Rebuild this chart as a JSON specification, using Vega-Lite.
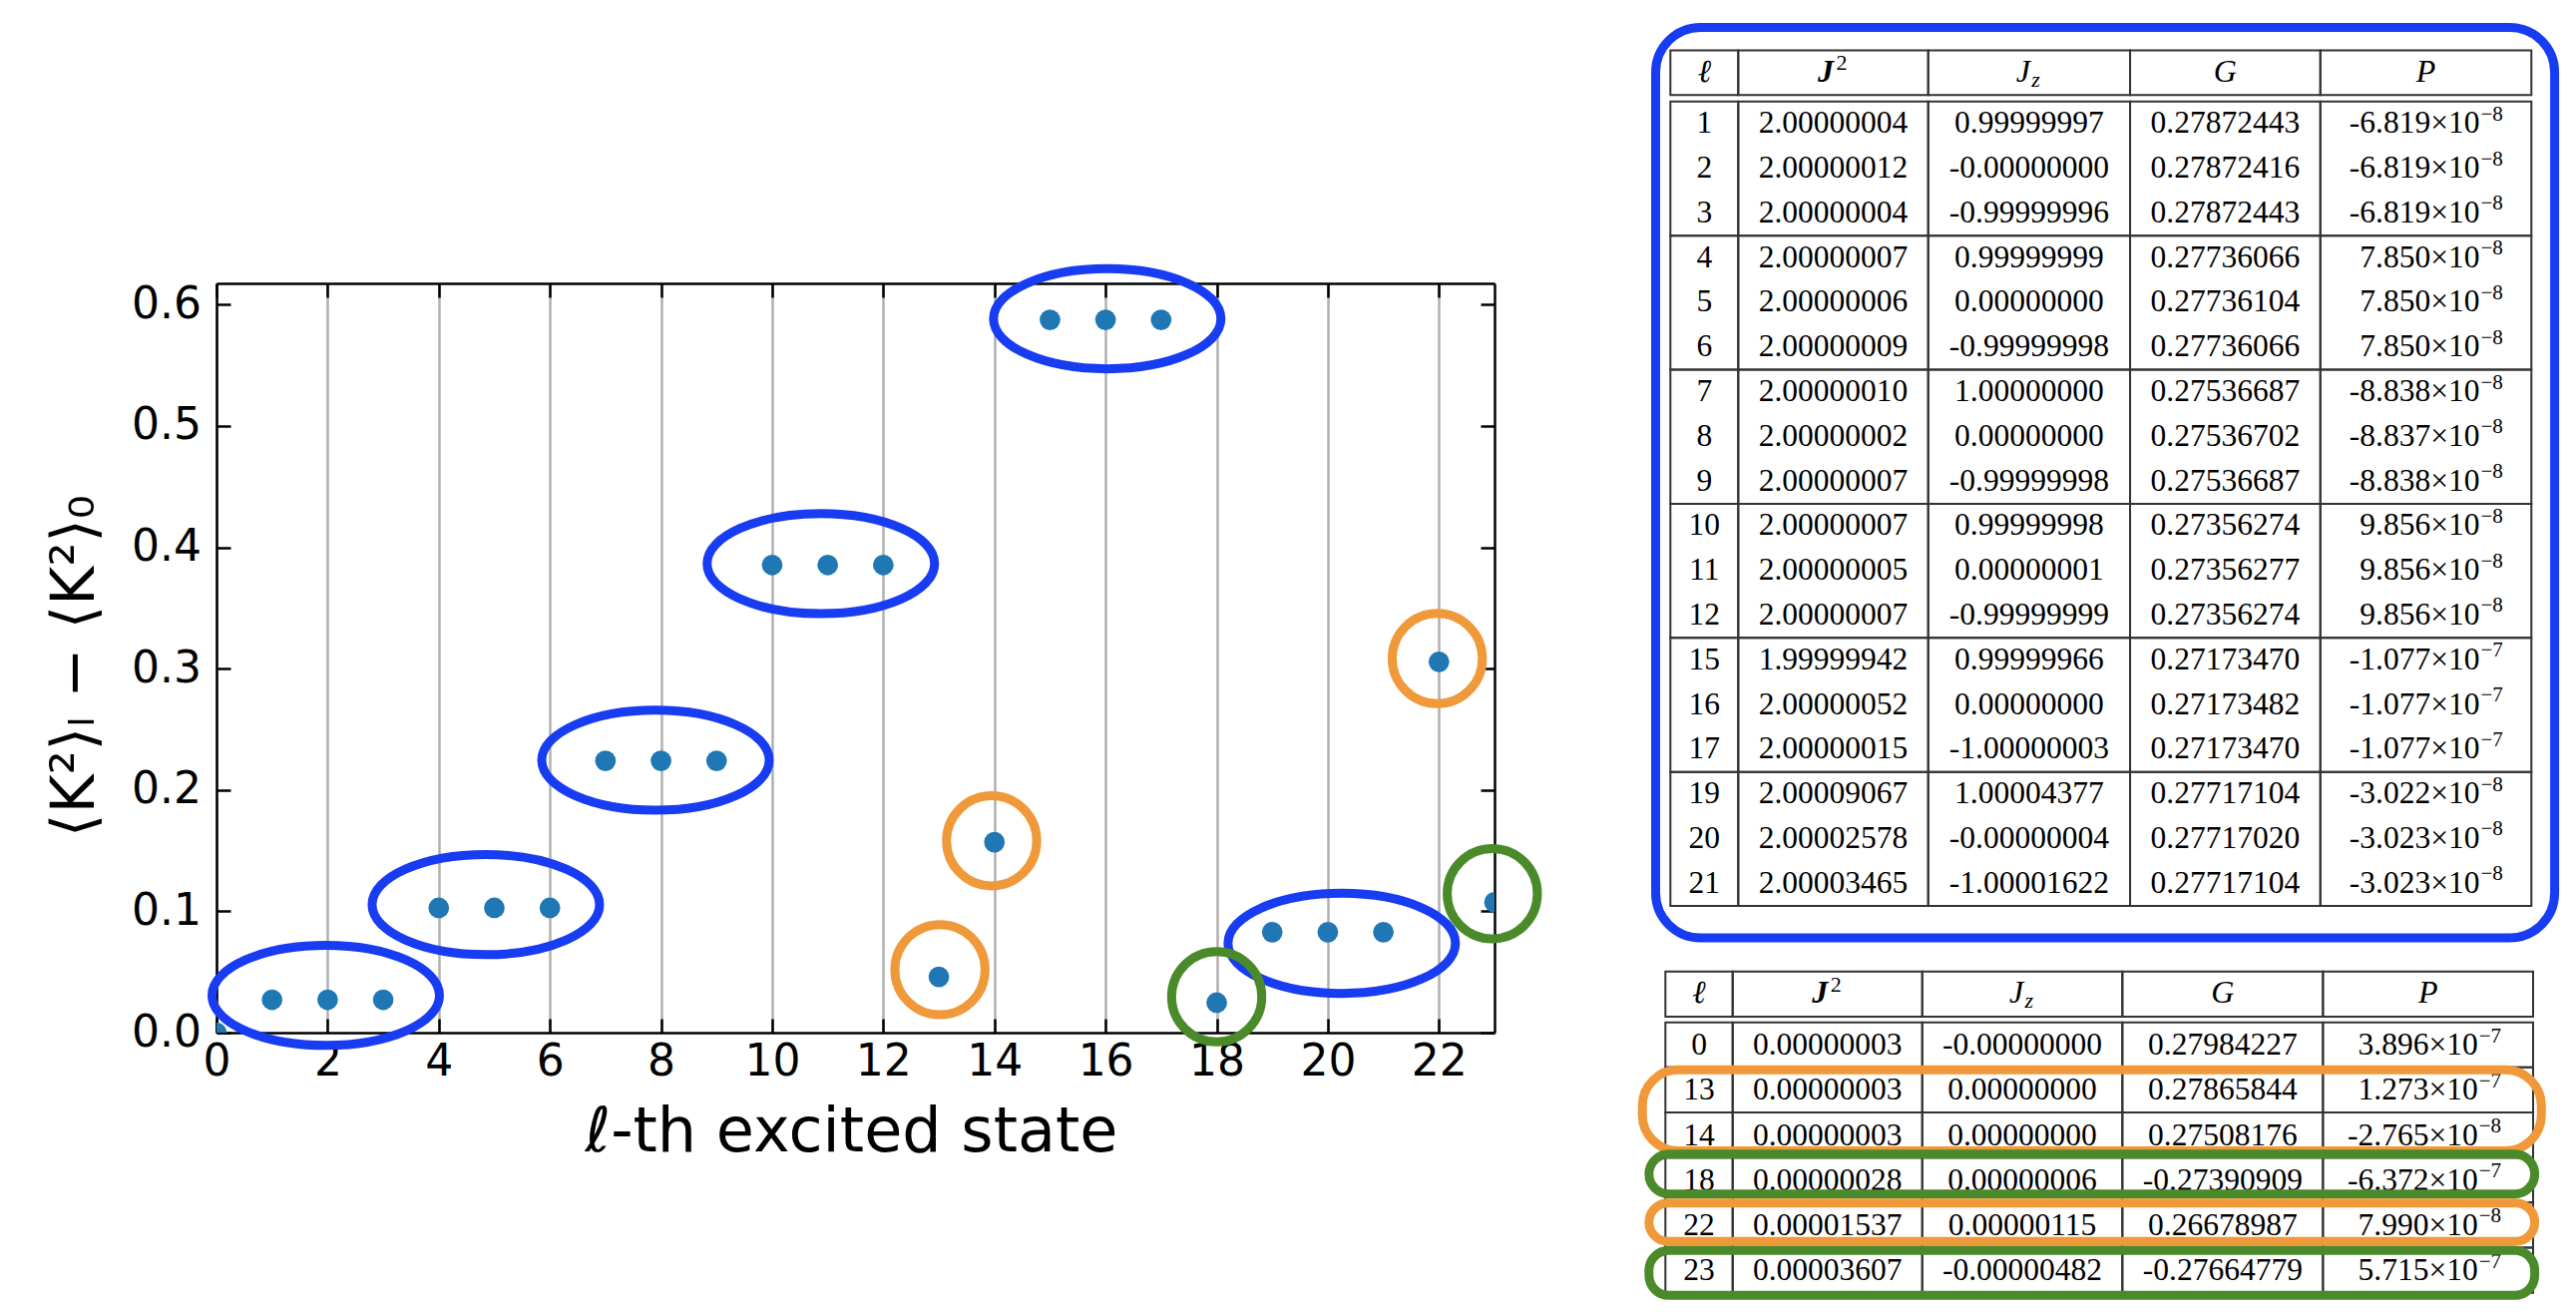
{
  "$schema": "https://vega.github.io/schema/vega-lite/v6.json",
  "autosize": {"type": "none"},
  "padding": {"left": 217, "top": 284, "right": 2365, "bottom": 1032},
  "background": "white",
  "config": {"view": {"stroke": null}},
  "datasets": {
    "states": [
      {"l": 0, "dK2": 0},
      {"l": 1, "dK2": 0.0271}, {"l": 2, "dK2": 0.0271}, {"l": 3, "dK2": 0.0271},
      {"l": 4, "dK2": 0.1028}, {"l": 5, "dK2": 0.1028}, {"l": 6, "dK2": 0.1028},
      {"l": 7, "dK2": 0.224}, {"l": 8, "dK2": 0.224}, {"l": 9, "dK2": 0.224},
      {"l": 10, "dK2": 0.3854}, {"l": 11, "dK2": 0.3854}, {"l": 12, "dK2": 0.3854},
      {"l": 13, "dK2": 0.046}, {"l": 14, "dK2": 0.157},
      {"l": 15, "dK2": 0.5874}, {"l": 16, "dK2": 0.5874}, {"l": 17, "dK2": 0.5874},
      {"l": 18, "dK2": 0.0247},
      {"l": 19, "dK2": 0.0828}, {"l": 20, "dK2": 0.0828}, {"l": 21, "dK2": 0.0828},
      {"l": 22, "dK2": 0.3056}, {"l": 23, "dK2": 0.1074}
    ],
    "ellipses": [
      {"kind": "triplet", "x": 1.966, "y": 0.0307},
      {"kind": "triplet", "x": 4.847, "y": 0.1055},
      {"kind": "triplet", "x": 7.9, "y": 0.2245},
      {"kind": "triplet", "x": 10.876, "y": 0.3865},
      {"kind": "triplet", "x": 16.03, "y": 0.5883},
      {"kind": "triplet", "x": 20.25, "y": 0.0736},
      {"kind": "orange", "x": 13.02, "y": 0.0519},
      {"kind": "orange", "x": 13.95, "y": 0.1581},
      {"kind": "orange", "x": 21.97, "y": 0.3083},
      {"kind": "green", "x": 18.0, "y": 0.0296},
      {"kind": "green", "x": 22.96, "y": 0.1145}
    ],
    "colsTop": [
      {"col": "l", "head": "ℓ", "left": 0.156, "right": 2.284, "center": 1.22},
      {"col": "J2", "head": "J", "sup": "2", "left": 2.284, "right": 8.241, "center": 5.2625},
      {"col": "Jz", "head": "J", "sub": "z", "left": 8.241, "right": 14.571, "center": 11.406},
      {"col": "G", "head": "G", "left": 14.571, "right": 20.538, "center": 17.5545},
      {"col": "Pm", "head": "P", "left": 20.538, "right": 27.156, "center": 23.847}
    ],
    "colsBot": [
      {"col": "l", "head": "ℓ", "left": 0, "right": 2.109, "center": 1.0545},
      {"col": "J2", "head": "J", "sup": "2", "left": 2.109, "right": 8.054, "center": 5.0815},
      {"col": "Jz", "head": "J", "sub": "z", "left": 8.054, "right": 14.33, "center": 11.192},
      {"col": "G", "head": "G", "left": 14.33, "right": 20.62, "center": 17.475},
      {"col": "Pm", "head": "P", "left": 20.62, "right": 27.21, "center": 23.915}
    ],
    "frames": [
      {"tbl": "top", "id": 0, "kind": "blue", "x0": -0.307, "x1": 27.885, "y0": -0.514, "y1": 19.86},
      {"tbl": "bot", "id": 1, "kind": "orange", "x0": -0.723, "x1": 27.47, "y0": 2.181, "y1": 3.98},
      {"tbl": "bot", "id": 2, "kind": "green", "x0": -0.516, "x1": 27.26, "y0": 4.049, "y1": 4.935},
      {"tbl": "bot", "id": 3, "kind": "orange", "x0": -0.516, "x1": 27.26, "y0": 5.134, "y1": 5.989},
      {"tbl": "bot", "id": 4, "kind": "green", "x0": -0.516, "x1": 27.26, "y0": 6.188, "y1": 7.184}
    ],
    "topRows": [
      {"pos": 1, "grp": 1, "l": "1", "J2": "2.00000004", "Jz": "0.99999997", "G": "0.27872443", "Pm": "-6.819×10", "Pe": "−8"},
      {"pos": 2, "grp": 1, "l": "2", "J2": "2.00000012", "Jz": "-0.00000000", "G": "0.27872416", "Pm": "-6.819×10", "Pe": "−8"},
      {"pos": 3, "grp": 1, "l": "3", "J2": "2.00000004", "Jz": "-0.99999996", "G": "0.27872443", "Pm": "-6.819×10", "Pe": "−8"},
      {"pos": 4, "grp": 2, "l": "4", "J2": "2.00000007", "Jz": "0.99999999", "G": "0.27736066", "Pm": "7.850×10", "Pe": "−8"},
      {"pos": 5, "grp": 2, "l": "5", "J2": "2.00000006", "Jz": "0.00000000", "G": "0.27736104", "Pm": "7.850×10", "Pe": "−8"},
      {"pos": 6, "grp": 2, "l": "6", "J2": "2.00000009", "Jz": "-0.99999998", "G": "0.27736066", "Pm": "7.850×10", "Pe": "−8"},
      {"pos": 7, "grp": 3, "l": "7", "J2": "2.00000010", "Jz": "1.00000000", "G": "0.27536687", "Pm": "-8.838×10", "Pe": "−8"},
      {"pos": 8, "grp": 3, "l": "8", "J2": "2.00000002", "Jz": "0.00000000", "G": "0.27536702", "Pm": "-8.837×10", "Pe": "−8"},
      {"pos": 9, "grp": 3, "l": "9", "J2": "2.00000007", "Jz": "-0.99999998", "G": "0.27536687", "Pm": "-8.838×10", "Pe": "−8"},
      {"pos": 10, "grp": 4, "l": "10", "J2": "2.00000007", "Jz": "0.99999998", "G": "0.27356274", "Pm": "9.856×10", "Pe": "−8"},
      {"pos": 11, "grp": 4, "l": "11", "J2": "2.00000005", "Jz": "0.00000001", "G": "0.27356277", "Pm": "9.856×10", "Pe": "−8"},
      {"pos": 12, "grp": 4, "l": "12", "J2": "2.00000007", "Jz": "-0.99999999", "G": "0.27356274", "Pm": "9.856×10", "Pe": "−8"},
      {"pos": 13, "grp": 5, "l": "15", "J2": "1.99999942", "Jz": "0.99999966", "G": "0.27173470", "Pm": "-1.077×10", "Pe": "−7"},
      {"pos": 14, "grp": 5, "l": "16", "J2": "2.00000052", "Jz": "0.00000000", "G": "0.27173482", "Pm": "-1.077×10", "Pe": "−7"},
      {"pos": 15, "grp": 5, "l": "17", "J2": "2.00000015", "Jz": "-1.00000003", "G": "0.27173470", "Pm": "-1.077×10", "Pe": "−7"},
      {"pos": 16, "grp": 6, "l": "19", "J2": "2.00009067", "Jz": "1.00004377", "G": "0.27717104", "Pm": "-3.022×10", "Pe": "−8"},
      {"pos": 17, "grp": 6, "l": "20", "J2": "2.00002578", "Jz": "-0.00000004", "G": "0.27717020", "Pm": "-3.023×10", "Pe": "−8"},
      {"pos": 18, "grp": 6, "l": "21", "J2": "2.00003465", "Jz": "-1.00001622", "G": "0.27717104", "Pm": "-3.023×10", "Pe": "−8"}
    ],
    "botRows": [
      {"pos": 1, "l": "0", "J2": "0.00000003", "Jz": "-0.00000000", "G": "0.27984227", "Pm": "3.896×10", "Pe": "−7"},
      {"pos": 2, "l": "13", "J2": "0.00000003", "Jz": "0.00000000", "G": "0.27865844", "Pm": "1.273×10", "Pe": "−7"},
      {"pos": 3, "l": "14", "J2": "0.00000003", "Jz": "0.00000000", "G": "0.27508176", "Pm": "-2.765×10", "Pe": "−8"},
      {"pos": 4, "l": "18", "J2": "0.00000028", "Jz": "0.00000006", "G": "-0.27390909", "Pm": "-6.372×10", "Pe": "−7"},
      {"pos": 5, "l": "22", "J2": "0.00001537", "Jz": "0.00000115", "G": "0.26678987", "Pm": "7.990×10", "Pe": "−8"},
      {"pos": 6, "l": "23", "J2": "0.00003607", "Jz": "-0.00000482", "G": "-0.27664779", "Pm": "5.715×10", "Pe": "−7"}
    ]
  },
  "bounds": "flush",
  "spacing": 171.3,
  "hconcat": [
    {
      "width": 1281,
      "height": 751,
      "layer": [
        {
          "data": {"name": "states"},
          "mark": {"type": "circle", "size": 430, "color": "#1f77b4", "opacity": 1, "clip": true},
          "encoding": {
            "x": {
              "field": "l", "type": "quantitative",
              "scale": {"domain": [0, 23], "nice": false, "zero": false},
              "axis": {
                "orient": "bottom", "values": [0, 2, 4, 6, 8, 10, 12, 14, 16, 18, 20, 22],
                "grid": true, "gridColor": "#b0b0b0", "gridWidth": 2.5,
                "domain": true, "domainColor": "#000000", "domainWidth": 2.5,
                "ticks": true, "tickSize": -14, "tickWidth": 2.5, "tickColor": "#000000",
                "labelFont": "DejaVu Sans", "labelFontSize": 44, "labelColor": "#000000",
                "labelPadding": 56, "labelBaseline": "alphabetic", "labelFlush": false, "labelOverlap": false,
                "title": "ℓ-th excited state", "titleFont": "DejaVu Sans", "titleFontSize": 62,
                "titleFontWeight": "normal", "titleColor": "#000000",
                "titleX": 636, "titleY": 118, "titleBaseline": "alphabetic", "titleAlign": "center"
              }
            },
            "y": {
              "field": "dK2", "type": "quantitative",
              "scale": {"domain": [0, 0.6175], "nice": false, "zero": false},
              "axis": {
                "orient": "left", "values": [0, 0.1, 0.2, 0.3, 0.4, 0.5, 0.6], "format": ".1f",
                "grid": false,
                "domain": true, "domainColor": "#000000", "domainWidth": 2.5,
                "ticks": true, "tickSize": -14, "tickWidth": 2.5, "tickColor": "#000000",
                "labelFont": "DejaVu Sans", "labelFontSize": 44, "labelColor": "#000000",
                "labelPadding": 29.5, "labelBaseline": "middle", "labelFlush": false, "labelOverlap": false,
                "title": "⟨K²⟩ₗ − ⟨K²⟩₀", "titleFont": "DejaVu Sans", "titleFontSize": 60,
                "titleFontWeight": "normal", "titleColor": "#000000",
                "titleX": -142, "titleY": 383, "titleAngle": -90, "titleBaseline": "middle", "titleAlign": "center"
              }
            }
          }
        },
        {
          "data": {"name": "ellipses"},
          "transform": [{"filter": "datum.kind === 'triplet'"}],
          "mark": {
            "type": "point", "filled": false, "opacity": 1, "strokeWidth": 9, "color": "#173cf2",
            "shape": "M-1,0A1,0.44,0,1,1,1,0A1,0.44,0,1,1,-1,0Z", "size": 51984
          },
          "encoding": {
            "x": {
              "field": "x", "type": "quantitative",
              "scale": {"domain": [0, 23], "nice": false, "zero": false},
              "axis": {
                "orient": "top", "values": [0, 2, 4, 6, 8, 10, 12, 14, 16, 18, 20, 22],
                "labels": false, "grid": false, "title": null,
                "domain": true, "domainColor": "#000000", "domainWidth": 2.5,
                "ticks": true, "tickSize": -14, "tickWidth": 2.5, "tickColor": "#000000"
              }
            },
            "y": {
              "field": "y", "type": "quantitative",
              "scale": {"domain": [0, 0.6175], "nice": false, "zero": false},
              "axis": {
                "orient": "right", "values": [0, 0.1, 0.2, 0.3, 0.4, 0.5, 0.6],
                "labels": false, "grid": false, "title": null,
                "domain": true, "domainColor": "#000000", "domainWidth": 2.5,
                "ticks": true, "tickSize": -14, "tickWidth": 2.5, "tickColor": "#000000"
              }
            }
          }
        },
        {
          "data": {"name": "ellipses"},
          "transform": [{"filter": "datum.kind !== 'triplet'"}],
          "mark": {"type": "point", "filled": false, "opacity": 1, "strokeWidth": 9, "shape": "circle", "size": 8171},
          "encoding": {
            "x": {"field": "x", "type": "quantitative", "scale": {"domain": [0, 23], "nice": false, "zero": false}, "axis": null},
            "y": {"field": "y", "type": "quantitative", "scale": {"domain": [0, 0.6175], "nice": false, "zero": false}, "axis": null},
            "color": {
              "field": "kind", "type": "nominal",
              "scale": {"domain": ["orange", "green"], "range": ["#f0993a", "#4a8a2a"]},
              "legend": null
            }
          }
        }
      ],
      "resolve": {"axis": {"x": "independent", "y": "independent"}}
    },
    {
      "bounds": "flush",
      "spacing": 71.8,
      "vconcat": [
        {
          "width": 869.7,
          "height": 617.5,
          "layer": [
            {
              "data": {"name": "frames"},
              "transform": [{"filter": "datum.tbl === 'top'"}],
              "mark": {"type": "rect", "fill": "transparent", "stroke": "#173cf2", "strokeWidth": 9, "cornerRadius": 45},
              "encoding": {
                "x": {"field": "x0", "type": "quantitative", "scale": {"domain": [0, 27.21], "nice": false, "zero": false}, "axis": null},
                "x2": {"field": "x1"},
                "y": {"field": "y0", "type": "quantitative", "scale": {"domain": [5.213, 19], "nice": false, "zero": false, "reverse": true}, "axis": null},
                "y2": {"field": "y1"}
              }
            },
            {
              "data": {"name": "colsTop"},
              "mark": {"type": "rect", "fill": "transparent", "stroke": "#333333", "strokeWidth": 2},
              "encoding": {
                "x": {"field": "left", "type": "quantitative"},
                "x2": {"field": "right"},
                "y": {"datum": 0, "type": "quantitative"},
                "y2": {"datum": 1}
              }
            },
            {
              "data": {"name": "topRows"},
              "transform": [
                {"fold": ["l", "J2", "Jz", "G", "Pm"], "as": ["key", "value"]},
                {"lookup": "key", "from": {"data": {"name": "colsTop"}, "key": "col", "fields": ["left", "right", "center"]}},
                {"aggregate": [{"op": "min", "field": "pos", "as": "p0"}, {"op": "max", "field": "pos", "as": "p1"}], "groupby": ["grp", "key", "left", "right"]}
              ],
              "mark": {"type": "rect", "fill": "transparent", "stroke": "#333333", "strokeWidth": 2, "yOffset": 6.5, "y2Offset": 51.29},
              "encoding": {
                "x": {"field": "left", "type": "quantitative"},
                "x2": {"field": "right"},
                "y": {"field": "p0", "type": "quantitative"},
                "y2": {"field": "p1"}
              }
            },
            {
              "data": {"name": "colsTop"},
              "transform": [{"filter": "datum.col === 'l' || datum.col === 'G' || datum.col === 'Pm'"}],
              "mark": {"type": "text", "font": "Liberation Serif", "fontSize": 32, "fontStyle": "italic", "color": "#000000", "align": "center", "baseline": "alphabetic", "yOffset": 31},
              "encoding": {
                "x": {"field": "center", "type": "quantitative"},
                "y": {"datum": 0, "type": "quantitative"},
                "text": {"field": "head"}
              }
            },
            {
              "data": {"name": "colsTop"},
              "transform": [{"filter": "datum.col === 'J2'"}],
              "mark": {"type": "text", "font": "Liberation Serif", "fontSize": 32, "fontStyle": "italic", "fontWeight": "bold", "color": "#000000", "align": "center", "baseline": "alphabetic", "yOffset": 31, "dx": -7.5},
              "encoding": {
                "x": {"field": "center", "type": "quantitative"},
                "y": {"datum": 0, "type": "quantitative"},
                "text": {"field": "head"}
              }
            },
            {
              "data": {"name": "colsTop"},
              "transform": [{"filter": "datum.col === 'J2'"}],
              "mark": {"type": "text", "font": "Liberation Serif", "fontSize": 22, "color": "#000000", "align": "left", "baseline": "alphabetic", "yOffset": 19.5, "dx": 3},
              "encoding": {
                "x": {"field": "center", "type": "quantitative"},
                "y": {"datum": 0, "type": "quantitative"},
                "text": {"field": "sup"}
              }
            },
            {
              "data": {"name": "colsTop"},
              "transform": [{"filter": "datum.col === 'Jz'"}],
              "mark": {"type": "text", "font": "Liberation Serif", "fontSize": 32, "fontStyle": "italic", "color": "#000000", "align": "center", "baseline": "alphabetic", "yOffset": 31, "dx": -6},
              "encoding": {
                "x": {"field": "center", "type": "quantitative"},
                "y": {"datum": 0, "type": "quantitative"},
                "text": {"field": "head"}
              }
            },
            {
              "data": {"name": "colsTop"},
              "transform": [{"filter": "datum.col === 'Jz'"}],
              "mark": {"type": "text", "font": "Liberation Serif", "fontSize": 22, "fontStyle": "italic", "color": "#000000", "align": "left", "baseline": "alphabetic", "yOffset": 36, "dx": 2.5},
              "encoding": {
                "x": {"field": "center", "type": "quantitative"},
                "y": {"datum": 0, "type": "quantitative"},
                "text": {"field": "sub"}
              }
            },
            {
              "data": {"name": "topRows"},
              "transform": [
                {"fold": ["l", "J2", "Jz", "G", "Pm"], "as": ["key", "value"]},
                {"lookup": "key", "from": {"data": {"name": "colsTop"}, "key": "col", "fields": ["left", "right", "center"]}},
                {"filter": "datum.key !== 'Pm'"}
              ],
              "mark": {"type": "text", "font": "Liberation Serif", "fontSize": 31.5, "color": "#000000", "align": "center", "baseline": "alphabetic", "yOffset": 38},
              "encoding": {
                "x": {"field": "center", "type": "quantitative"},
                "y": {"field": "pos", "type": "quantitative"},
                "text": {"field": "value"}
              }
            },
            {
              "data": {"name": "topRows"},
              "transform": [
                {"fold": ["l", "J2", "Jz", "G", "Pm"], "as": ["key", "value"]},
                {"lookup": "key", "from": {"data": {"name": "colsTop"}, "key": "col", "fields": ["left", "right", "center"]}},
                {"filter": "datum.key === 'Pm'"}
              ],
              "mark": {"type": "text", "font": "Liberation Serif", "fontSize": 31.5, "color": "#000000", "align": "right", "baseline": "alphabetic", "yOffset": 38, "dx": 54},
              "encoding": {
                "x": {"field": "center", "type": "quantitative"},
                "y": {"field": "pos", "type": "quantitative"},
                "text": {"field": "value"}
              }
            },
            {
              "data": {"name": "topRows"},
              "transform": [
                {"fold": ["l", "J2", "Jz", "G", "Pm"], "as": ["key", "value"]},
                {"lookup": "key", "from": {"data": {"name": "colsTop"}, "key": "col", "fields": ["left", "right", "center"]}},
                {"filter": "datum.key === 'Pm'"}
              ],
              "mark": {"type": "text", "font": "Liberation Serif", "fontSize": 21, "color": "#000000", "align": "left", "baseline": "alphabetic", "yOffset": 25.5, "dx": 55},
              "encoding": {
                "x": {"field": "center", "type": "quantitative"},
                "y": {"field": "pos", "type": "quantitative"},
                "text": {"field": "Pe"}
              }
            }
          ]
        },
        {
          "width": 869.7,
          "height": 316.2,
          "layer": [
            {
              "data": {"name": "colsBot"},
              "mark": {"type": "rect", "fill": "transparent", "stroke": "#333333", "strokeWidth": 2},
              "encoding": {
                "x": {"field": "left", "type": "quantitative", "scale": {"domain": [0, 27.21], "nice": false, "zero": false}, "axis": null},
                "x2": {"field": "right"},
                "y": {"datum": 0, "type": "quantitative", "scale": {"domain": [0, 7], "nice": false, "zero": false, "reverse": true}, "axis": null},
                "y2": {"datum": 1}
              }
            },
            {
              "data": {"name": "botRows"},
              "transform": [
                {"fold": ["l", "J2", "Jz", "G", "Pm"], "as": ["key", "value"]},
                {"lookup": "key", "from": {"data": {"name": "colsBot"}, "key": "col", "fields": ["left", "right", "center"]}}
              ],
              "mark": {"type": "rect", "fill": "transparent", "stroke": "#333333", "strokeWidth": 2, "yOffset": 5.7, "y2Offset": 50.87},
              "encoding": {
                "x": {"field": "left", "type": "quantitative"},
                "x2": {"field": "right"},
                "y": {"field": "pos", "type": "quantitative"},
                "y2": {"field": "pos"}
              }
            },
            {
              "data": {"name": "colsBot"},
              "transform": [{"filter": "datum.col === 'l' || datum.col === 'G' || datum.col === 'Pm'"}],
              "mark": {"type": "text", "font": "Liberation Serif", "fontSize": 32, "fontStyle": "italic", "color": "#000000", "align": "center", "baseline": "alphabetic", "yOffset": 31.5},
              "encoding": {
                "x": {"field": "center", "type": "quantitative"},
                "y": {"datum": 0, "type": "quantitative"},
                "text": {"field": "head"}
              }
            },
            {
              "data": {"name": "colsBot"},
              "transform": [{"filter": "datum.col === 'J2'"}],
              "mark": {"type": "text", "font": "Liberation Serif", "fontSize": 32, "fontStyle": "italic", "fontWeight": "bold", "color": "#000000", "align": "center", "baseline": "alphabetic", "yOffset": 31.5, "dx": -7.5},
              "encoding": {
                "x": {"field": "center", "type": "quantitative"},
                "y": {"datum": 0, "type": "quantitative"},
                "text": {"field": "head"}
              }
            },
            {
              "data": {"name": "colsBot"},
              "transform": [{"filter": "datum.col === 'J2'"}],
              "mark": {"type": "text", "font": "Liberation Serif", "fontSize": 22, "color": "#000000", "align": "left", "baseline": "alphabetic", "yOffset": 20, "dx": 3},
              "encoding": {
                "x": {"field": "center", "type": "quantitative"},
                "y": {"datum": 0, "type": "quantitative"},
                "text": {"field": "sup"}
              }
            },
            {
              "data": {"name": "colsBot"},
              "transform": [{"filter": "datum.col === 'Jz'"}],
              "mark": {"type": "text", "font": "Liberation Serif", "fontSize": 32, "fontStyle": "italic", "color": "#000000", "align": "center", "baseline": "alphabetic", "yOffset": 31.5, "dx": -6},
              "encoding": {
                "x": {"field": "center", "type": "quantitative"},
                "y": {"datum": 0, "type": "quantitative"},
                "text": {"field": "head"}
              }
            },
            {
              "data": {"name": "colsBot"},
              "transform": [{"filter": "datum.col === 'Jz'"}],
              "mark": {"type": "text", "font": "Liberation Serif", "fontSize": 22, "fontStyle": "italic", "color": "#000000", "align": "left", "baseline": "alphabetic", "yOffset": 36.5, "dx": 2.5},
              "encoding": {
                "x": {"field": "center", "type": "quantitative"},
                "y": {"datum": 0, "type": "quantitative"},
                "text": {"field": "sub"}
              }
            },
            {
              "data": {"name": "botRows"},
              "transform": [
                {"fold": ["l", "J2", "Jz", "G", "Pm"], "as": ["key", "value"]},
                {"lookup": "key", "from": {"data": {"name": "colsBot"}, "key": "col", "fields": ["left", "right", "center"]}},
                {"filter": "datum.key !== 'Pm'"}
              ],
              "mark": {"type": "text", "font": "Liberation Serif", "fontSize": 31.5, "color": "#000000", "align": "center", "baseline": "alphabetic", "yOffset": 38.2},
              "encoding": {
                "x": {"field": "center", "type": "quantitative"},
                "y": {"field": "pos", "type": "quantitative"},
                "text": {"field": "value"}
              }
            },
            {
              "data": {"name": "botRows"},
              "transform": [
                {"fold": ["l", "J2", "Jz", "G", "Pm"], "as": ["key", "value"]},
                {"lookup": "key", "from": {"data": {"name": "colsBot"}, "key": "col", "fields": ["left", "right", "center"]}},
                {"filter": "datum.key === 'Pm'"}
              ],
              "mark": {"type": "text", "font": "Liberation Serif", "fontSize": 31.5, "color": "#000000", "align": "right", "baseline": "alphabetic", "yOffset": 38.2, "dx": 50},
              "encoding": {
                "x": {"field": "center", "type": "quantitative"},
                "y": {"field": "pos", "type": "quantitative"},
                "text": {"field": "value"}
              }
            },
            {
              "data": {"name": "botRows"},
              "transform": [
                {"fold": ["l", "J2", "Jz", "G", "Pm"], "as": ["key", "value"]},
                {"lookup": "key", "from": {"data": {"name": "colsBot"}, "key": "col", "fields": ["left", "right", "center"]}},
                {"filter": "datum.key === 'Pm'"}
              ],
              "mark": {"type": "text", "font": "Liberation Serif", "fontSize": 21, "color": "#000000", "align": "left", "baseline": "alphabetic", "yOffset": 25.7, "dx": 51},
              "encoding": {
                "x": {"field": "center", "type": "quantitative"},
                "y": {"field": "pos", "type": "quantitative"},
                "text": {"field": "Pe"}
              }
            },
            {
              "data": {"name": "frames"},
              "transform": [{"filter": "datum.tbl === 'bot' && datum.id === 1"}],
              "mark": {"type": "rect", "fill": "transparent", "strokeWidth": 9, "cornerRadius": 36},
              "encoding": {
                "x": {"field": "x0", "type": "quantitative"},
                "x2": {"field": "x1"},
                "y": {"field": "y0", "type": "quantitative"},
                "y2": {"field": "y1"},
                "stroke": {"field": "kind", "type": "nominal", "scale": {"domain": ["orange", "green"], "range": ["#f0993a", "#4a8a2a"]}, "legend": null}
              }
            },
            {
              "data": {"name": "frames"},
              "transform": [{"filter": "datum.tbl === 'bot' && datum.id > 1"}],
              "mark": {"type": "rect", "fill": "transparent", "strokeWidth": 9, "cornerRadius": 20},
              "encoding": {
                "x": {"field": "x0", "type": "quantitative"},
                "x2": {"field": "x1"},
                "y": {"field": "y0", "type": "quantitative"},
                "y2": {"field": "y1"},
                "stroke": {"field": "kind", "type": "nominal", "scale": {"domain": ["orange", "green"], "range": ["#f0993a", "#4a8a2a"]}, "legend": null}
              }
            }
          ]
        }
      ]
    }
  ]
}
